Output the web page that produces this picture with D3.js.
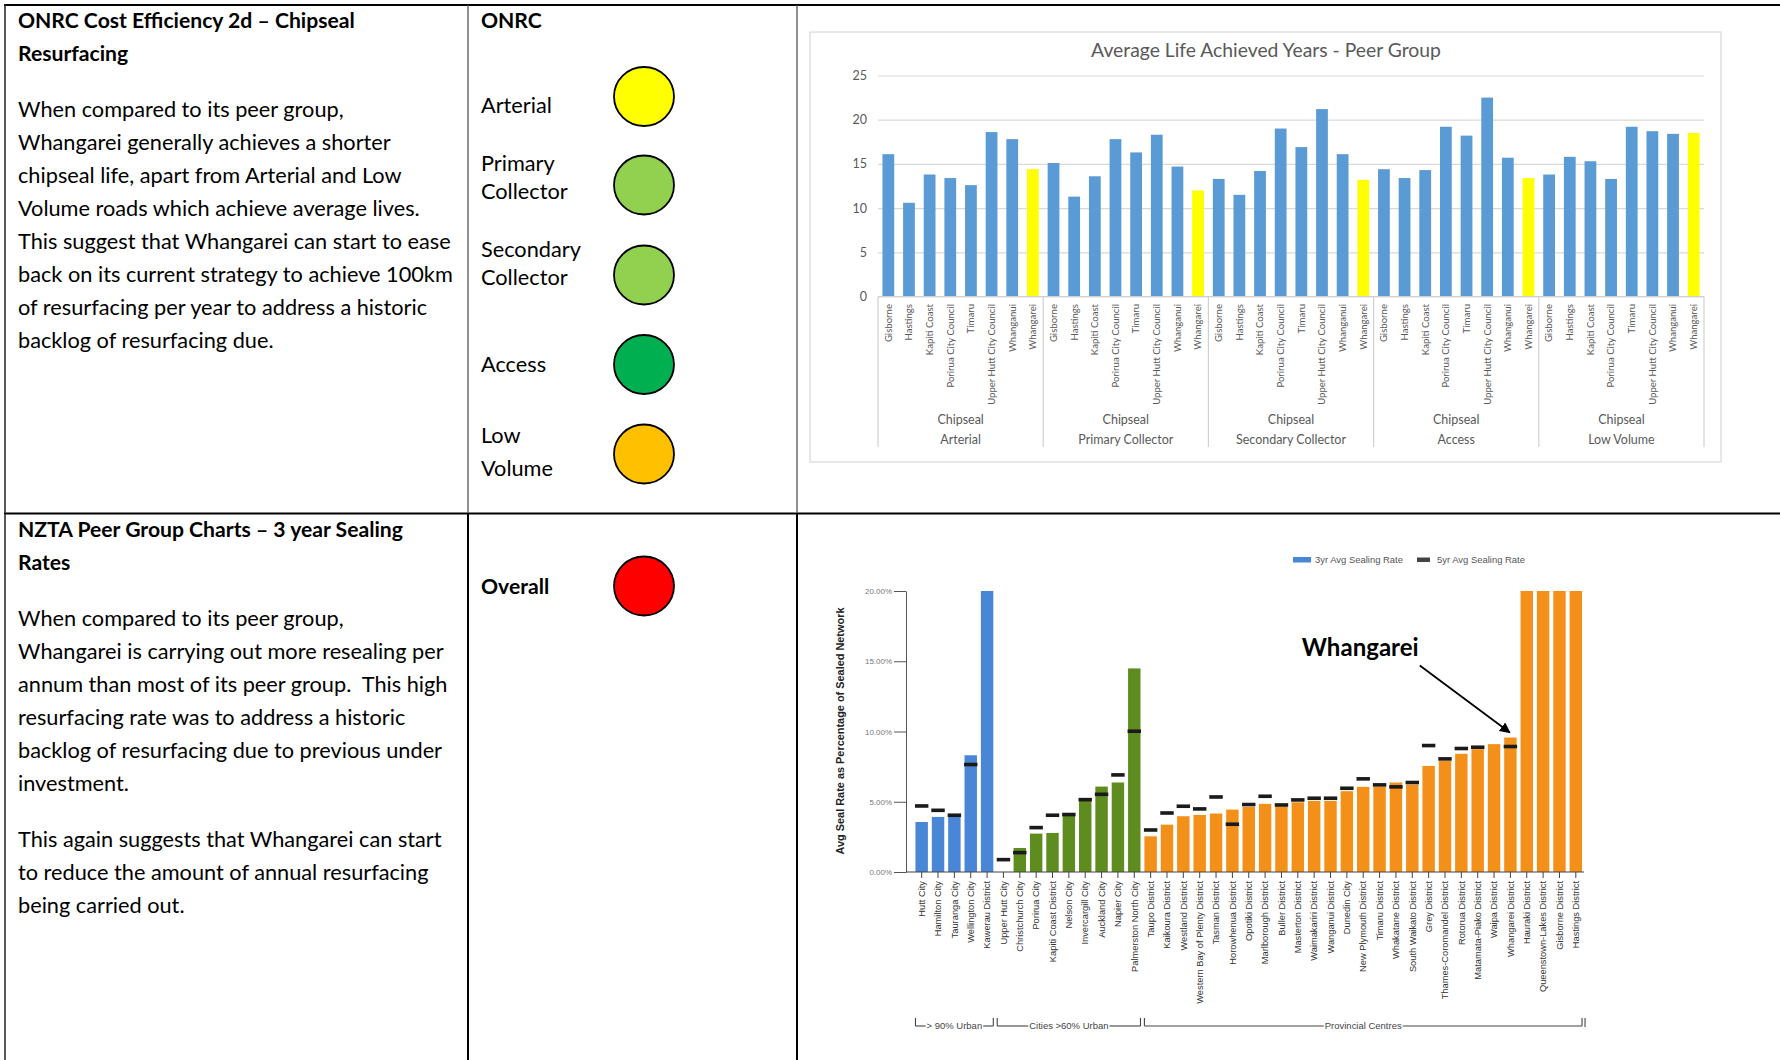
<!DOCTYPE html>
<html>
<head>
<meta charset="utf-8">
<script src="https://cdn.jsdelivr.net/npm/d3@7"></script>
<style>
  html, body { margin: 0; padding: 0; background: #fff; }
  svg { display: block; }
  text { white-space: pre; }
</style>
</head>
<body>
<svg id="page" width="1780" height="1060"></svg>
<script>
// ---------- Average life achieved (years) – chipseal, by ONRC class ----------
const lifeClasses   = ["Arterial", "Primary Collector", "Secondary Collector", "Access", "Low Volume"];
const lifeCouncils  = ["Gisborne", "Hastings", "Kapiti Coast", "Porirua City Council", "Timaru",
                       "Upper Hutt City Council", "Whanganui", "Whangarei"];
const lifeArterial  = [16.1, 10.6, 13.8, 13.4, 12.6, 18.6, 17.8, 14.4];
const lifePrimary   = [15.1, 11.3, 13.6, 17.8, 16.3, 18.3, 14.7, 12.0];
const lifeSecondary = [13.3, 11.5, 14.2, 19.0, 16.9, 21.2, 16.1, 13.2];
const lifeAccess    = [14.4, 13.4, 14.3, 19.2, 18.2, 22.5, 15.7, 13.4];
const lifeLowVolume = [13.8, 15.8, 15.3, 13.3, 19.2, 18.7, 18.4, 18.5];
const lifeTicks     = [0, 5, 10, 15, 20, 25];
const focusCouncil  = "Whangarei";

// ---------- Sealing rate as % of sealed network ----------
const sealCouncils = [
  "Hutt City", "Hamilton City", "Tauranga City", "Wellington City", "Kawerau District",
  "Upper Hutt City", "Christchurch City", "Porirua City", "Kapiti Coast District", "Nelson City",
  "Invercargill City", "Auckland City", "Napier City", "Palmerston North City",
  "Taupo District", "Kaikoura District", "Westland District", "Western Bay of Plenty District",
  "Tasman District", "Horowhenua District", "Opotiki District", "Marlborough District",
  "Buller District", "Masterton District", "Waimakariri District", "Wanganui District",
  "Dunedin City", "New Plymouth District", "Timaru District", "Whakatane District",
  "South Waikato District", "Grey District", "Thames-Coromandel District", "Rotorua District",
  "Matamata-Piako District", "Waipa District", "Whangarei District", "Hauraki District",
  "Queenstown-Lakes District", "Gisborne District", "Hastings District"
];
const sealRate3yr = [
  3.56, 3.92, 4.11, 8.31, 20.0,
  0.0, 1.71, 2.73, 2.78, 4.04, 5.06, 6.08, 6.37, 14.49,
  2.54, 3.37, 3.97, 4.06, 4.16, 4.44, 4.63, 4.85, 4.66, 4.96, 5.06, 5.06,
  5.75, 6.06, 6.06, 6.37, 6.22, 7.55, 7.91, 8.41, 8.74, 9.10, 9.57,
  20.0, 20.0, 20.0, 20.0
];
const sealRate5yr = [
  4.70, 4.39, 4.04, 7.65, null,
  0.88, 1.38, 3.16, 4.04, 4.09, 5.15, 5.53, 6.91, 10.02,
  2.99, 4.20, 4.68, 4.49, 5.34, 3.40, 4.80, 5.39, 4.77, 5.13, 5.25, 5.25,
  5.96, 6.63, 6.20, 6.06, 6.37, 9.00, 8.05, 8.79, 8.88, null, 8.93,
  null, null, null, null
];
const sealGroupLabels = ["> 90% Urban", "Cities >60% Urban", "Provincial Centres"];
const sealGroupSizes  = [5, 9, 27];
const sealTicks       = [0, 5, 10, 15, 20];
const sealLegend      = ["3yr Avg Sealing Rate", "5yr Avg Sealing Rate"];
const highlightCouncil = "Whangarei District";

// ---------- Report text and ONRC ratings ----------
const topHeading = ["ONRC Cost Efficiency 2d – Chipseal", "Resurfacing"];
const topBody = [
  "When compared to its peer group,",
  "Whangarei generally achieves a shorter",
  "chipseal life, apart from Arterial and Low",
  "Volume roads which achieve average lives.",
  "This suggest that Whangarei can start to ease",
  "back on its current strategy to achieve 100km",
  "of resurfacing per year to address a historic",
  "backlog of resurfacing due."
];
const bottomHeading = ["NZTA Peer Group Charts – 3 year Sealing", "Rates"];
const bottomBodyPara1 = [
  "When compared to its peer group,",
  "Whangarei is carrying out more resealing per",
  "annum than most of its peer group.  This high",
  "resurfacing rate was to address a historic",
  "backlog of resurfacing due to previous under",
  "investment."
];
const bottomBodyPara2 = [
  "This again suggests that Whangarei can start",
  "to reduce the amount of annual resurfacing",
  "being carried out."
];
const ratingLabels = [["Arterial"], ["Primary", "Collector"], ["Secondary", "Collector"], ["Access"], ["Low", "Volume"]];
const ratingLevels = ["yellow", "lightgreen", "lightgreen", "green", "amber"];
const overallLabel = "Overall";
const overallLevel = "red";

// ---------- drawing ----------
const svg = d3.select("#page");
const SANS = "Lato, 'Open Sans', sans-serif";
const ARIAL = "'Liberation Sans', Arial, sans-serif";

// font size that makes a string a given width
function fitSize(str, family, weight, target) {
  const t = svg.append("text").attr("font-family", family).attr("font-weight", weight)
    .attr("font-size", 100).text(str);
  const w = t.node().getComputedTextLength();
  t.remove();
  return 100 * target / w;
}

const ratingFill = { yellow: "#FFFF00", lightgreen: "#92D050", green: "#00B050", amber: "#FFC000", red: "#FF0000" };

// table rules
const table = svg.append("g");
table.append("line").attr("x1", 4).attr("x2", 1780).attr("y1", 5).attr("y2", 5).attr("stroke", "#000").attr("stroke-width", 2);
table.append("line").attr("x1", 4).attr("x2", 1780).attr("y1", 513.5).attr("y2", 513.5).attr("stroke", "#000").attr("stroke-width", 2);
table.append("line").attr("x1", 5).attr("x2", 5).attr("y1", 4).attr("y2", 1060).attr("stroke", "#222").attr("stroke-width", 1.5);
[468, 797].forEach(x => {
  table.append("line").attr("x1", x).attr("x2", x).attr("y1", 5).attr("y2", 513).attr("stroke", "#555").attr("stroke-width", 1.3);
  table.append("line").attr("x1", x).attr("x2", x).attr("y1", 513).attr("y2", 1060).attr("stroke", "#000").attr("stroke-width", 2);
});

// left column text
const headSize = fitSize(topHeading[0], SANS, 700, 337);
const bodySize = fitSize(topBody[5], SANS, 400, 435);
function lines(arr, x, y0, dy, size, weight) {
  svg.append("g").selectAll("text").data(arr).join("text")
    .attr("x", x).attr("y", (d, i) => y0 + i * dy)
    .attr("font-family", SANS).attr("font-weight", weight).attr("font-size", size)
    .attr("fill", "#000").text(d => d);
}
lines(topHeading, 18, 28, 33, headSize, 700);
lines(topBody, 18, 117, 33, bodySize, 400);
lines(bottomHeading, 18, 537, 33, headSize, 700);
lines(bottomBodyPara1, 18, 626, 33, bodySize, 400);
lines(bottomBodyPara2, 18, 847, 33, bodySize, 400);

// ONRC rating column
lines(["ONRC"], 481, 28, 0, headSize, 700);
const ratingCentres = [96.5, 185, 275, 364.5, 454];
const ratingBaselines = [[113], [171, 199], [257, 285], [372], [443, 476]];
ratingLabels.forEach((lab, i) => {
  lab.forEach((s, j) => lines([s], 481, ratingBaselines[i][j], 0, bodySize, 400));
});
svg.append("g").selectAll("ellipse").data(ratingLevels).join("ellipse")
  .attr("cx", 644).attr("cy", (d, i) => ratingCentres[i]).attr("rx", 30).attr("ry", 29.5)
  .attr("fill", d => ratingFill[d]).attr("stroke", "#000").attr("stroke-width", 1.8);
lines([overallLabel], 481, 594, 0, headSize, 700);
svg.append("ellipse").attr("cx", 644).attr("cy", 586).attr("rx", 30).attr("ry", 29.5)
  .attr("fill", ratingFill[overallLevel]).attr("stroke", "#000").attr("stroke-width", 1.8);

// ---------- chart 1: average life achieved ----------
const lifeSeries = [lifeArterial, lifePrimary, lifeSecondary, lifeAccess, lifeLowVolume];
const lifeRows = lifeClasses.flatMap((cls, gi) =>
  lifeCouncils.map((c, ci) => ({ cls, council: c, value: lifeSeries[gi][ci], key: gi * lifeCouncils.length + ci })));

const c1 = svg.append("g");
c1.append("rect").attr("x", 810).attr("y", 32).attr("width", 911).attr("height", 430)
  .attr("fill", "#fff").attr("stroke", "#d9d9d9").attr("stroke-width", 1.2);

const xLife = d3.scaleBand().domain(lifeRows.map(d => d.key)).range([878, 1704])
  .paddingInner(0.43).paddingOuter(0.215);
const yLife = d3.scaleLinear().domain([0, 25]).range([296.5, 75.5]);

const yAxisLife = c1.append("g").attr("transform", "translate(878,0)")
  .call(d3.axisLeft(yLife).tickValues(lifeTicks).tickSize(-826).tickPadding(11).tickFormat(d3.format("d")));
yAxisLife.select(".domain").remove();
yAxisLife.selectAll(".tick line").attr("stroke", "#d9d9d9").attr("stroke-width", 1.2);
yAxisLife.selectAll(".tick text").attr("fill", "#595959").attr("font-family", SANS).attr("font-size", 12.5);

c1.append("text").attr("x", 1266).attr("y", 57).attr("text-anchor", "middle")
  .attr("font-family", SANS).attr("font-size", fitSize("Average Life Achieved Years - Peer Group", SANS, 400, 350))
  .attr("fill", "#595959").text("Average Life Achieved Years - Peer Group");

c1.append("g").selectAll("rect").data(lifeRows).join("rect")
  .attr("x", d => xLife(d.key)).attr("width", xLife.bandwidth())
  .attr("y", d => yLife(d.value)).attr("height", d => yLife(0) - yLife(d.value))
  .attr("fill", d => d.council === focusCouncil ? "#FFFF00" : "#5B9BD5");

// category axis with multi-level labels
const step8 = xLife.step() * lifeCouncils.length;
c1.selectAll(".sep").data(d3.range(lifeClasses.length + 1)).join("line")
  .attr("x1", i => 878 + i * step8).attr("x2", i => 878 + i * step8)
  .attr("y1", 296.5).attr("y2", 447).attr("stroke", "#d0d0d0").attr("stroke-width", 1.2);
c1.append("line").attr("x1", 878).attr("x2", 1704).attr("y1", 296.5).attr("y2", 296.5)
  .attr("stroke", "#d0d0d0").attr("stroke-width", 1.2);

const catSize = fitSize("Upper Hutt City Council", SANS, 400, 101);
c1.append("g").selectAll("text").data(lifeRows).join("text")
  .attr("transform", d => `translate(${xLife(d.key) + xLife.bandwidth() / 2},304) rotate(-90)`)
  .attr("text-anchor", "end").attr("dy", "0.35em")
  .attr("font-family", SANS).attr("font-size", catSize).attr("fill", "#595959").text(d => d.council);
const grpSize = fitSize("Primary Collector", SANS, 400, 95);
lifeClasses.forEach((cls, i) => {
  const cx = 878 + (i + 0.5) * step8;
  c1.append("text").attr("x", cx).attr("y", 424).attr("text-anchor", "middle")
    .attr("font-family", SANS).attr("font-size", grpSize).attr("fill", "#595959").text("Chipseal");
  c1.append("text").attr("x", cx).attr("y", 444).attr("text-anchor", "middle")
    .attr("font-family", SANS).attr("font-size", grpSize).attr("fill", "#595959").text(cls);
});

// ---------- chart 2: sealing rates ----------
const groupColours = ["#4a86d6", "#5e8c1f", "#f39019"];
const groupOf = sealGroupSizes.flatMap((n, g) => d3.range(n).map(() => g));
const sealRows = sealCouncils.map((c, i) => ({ council: c, r3: sealRate3yr[i], r5: sealRate5yr[i], group: groupOf[i] }));

const c2 = svg.append("g");
const xSeal = d3.scaleBand().domain(sealCouncils).range([913.5, 1584]).paddingInner(0.24).paddingOuter(0.12);
const ySeal = d3.scaleLinear().domain([0, 20]).range([872, 591]);

const yAxisSeal = c2.append("g").attr("transform", "translate(906,0)")
  .call(d3.axisLeft(ySeal).tickValues(sealTicks).tickSize(12).tickSizeOuter(0).tickPadding(2)
    .tickFormat(d => d.toFixed(2) + "%"));
yAxisSeal.select(".domain").attr("stroke", "#555");
yAxisSeal.selectAll(".tick line").attr("stroke", "#555");
yAxisSeal.selectAll(".tick text").attr("fill", "#777").attr("font-family", ARIAL)
  .attr("font-size", fitSize("20.00%", ARIAL, 400, 27));

c2.append("g").selectAll("rect").data(sealRows).join("rect")
  .attr("x", d => xSeal(d.council)).attr("width", xSeal.bandwidth())
  .attr("y", d => ySeal(d.r3)).attr("height", d => ySeal(0) - ySeal(d.r3))
  .attr("fill", d => groupColours[d.group]);

c2.append("g").selectAll("rect").data(sealRows.filter(d => d.r5 != null)).join("rect")
  .attr("x", d => xSeal(d.council) - 0.5).attr("width", xSeal.bandwidth() + 1)
  .attr("y", d => ySeal(d.r5) - 1.8).attr("height", 3.6).attr("fill", "#1a1a1a");

const xAxisSeal = c2.append("g").attr("transform", "translate(0,872)")
  .call(d3.axisBottom(xSeal).tickSize(6).tickSizeOuter(0).tickFormat(""));
xAxisSeal.select(".domain").remove();
xAxisSeal.selectAll(".tick line").attr("stroke", "#444");
c2.append("line").attr("x1", 906).attr("x2", 1584).attr("y1", 872).attr("y2", 872).attr("stroke", "#444").attr("stroke-width", 1.2);

const sealLabelSize = fitSize("Western Bay of Plenty District", ARIAL, 400, 123);
c2.append("g").selectAll("text").data(sealRows).join("text")
  .attr("transform", d => `translate(${xSeal(d.council) + xSeal.bandwidth() / 2},881) rotate(-90)`)
  .attr("text-anchor", "end").attr("dy", "0.35em")
  .attr("font-family", ARIAL).attr("font-size", sealLabelSize).attr("fill", "#333").text(d => d.council);

// y title
const yTitle = "Avg Seal Rate as Percentage of Sealed Network";
c2.append("text").attr("transform", "translate(840,731) rotate(-90)").attr("text-anchor", "middle")
  .attr("dy", "0.35em").attr("font-family", ARIAL).attr("font-weight", 700)
  .attr("font-size", fitSize(yTitle, ARIAL, 700, 247)).attr("fill", "#222").text(yTitle);

// legend
const legSize = fitSize(sealLegend[0], ARIAL, 400, 88);
c2.append("rect").attr("x", 1293).attr("y", 557).attr("width", 18).attr("height", 5.5).attr("fill", groupColours[0]);
c2.append("text").attr("x", 1315).attr("y", 563).attr("font-family", ARIAL).attr("font-size", legSize).attr("fill", "#555").text(sealLegend[0]);
c2.append("rect").attr("x", 1417).attr("y", 557.5).attr("width", 13).attr("height", 4.5).attr("fill", "#444");
c2.append("text").attr("x", 1437).attr("y", 563).attr("font-family", ARIAL).attr("font-size", legSize).attr("fill", "#555").text(sealLegend[1]);

// peer-group brackets
const brY = 1026, brTop = 1018;
const brSize = fitSize("Provincial Centres", ARIAL, 400, 77);
let start = 0;
sealGroupSizes.forEach((n, g) => {
  const first = sealCouncils[start], last = sealCouncils[start + n - 1];
  const x0 = xSeal(first), x1 = xSeal(last) + xSeal.bandwidth();
  start += n;
  const bg = c2.append("g").attr("stroke", "#444").attr("stroke-width", 1.1);
  const txt = c2.append("text").attr("x", (x0 + x1) / 2).attr("y", brY + 3.2).attr("text-anchor", "middle")
    .attr("font-family", ARIAL).attr("font-size", brSize).attr("fill", "#444").text(sealGroupLabels[g]);
  const tw = txt.node().getComputedTextLength();
  const tl = (x0 + x1) / 2 - tw / 2 - 1, tr = (x0 + x1) / 2 + tw / 2 + 1;
  bg.append("line").attr("x1", x0).attr("x2", x0).attr("y1", brTop).attr("y2", brY);
  bg.append("line").attr("x1", x1).attr("x2", x1).attr("y1", brTop).attr("y2", brY);
  bg.append("line").attr("x1", x0).attr("x2", tl).attr("y1", brY).attr("y2", brY);
  bg.append("line").attr("x1", tr).attr("x2", x1).attr("y1", brY).attr("y2", brY);
  if (g === sealGroupSizes.length - 1) {
    bg.append("line").attr("x1", x1 + 3).attr("x2", x1 + 3).attr("y1", brTop).attr("y2", brY + 1);
  }
});

// Whangarei call-out
const hl = sealRows.find(d => d.council === highlightCouncil);
const tipX = xSeal(hl.council) + xSeal.bandwidth() * 0.45, tipY = ySeal(hl.r3) - 5;
svg.append("defs").append("marker").attr("id", "head").attr("viewBox", "0 0 10 10")
  .attr("refX", 9).attr("refY", 5).attr("markerWidth", 6).attr("markerHeight", 6)
  .attr("orient", "auto").attr("markerUnits", "strokeWidth")
  .append("path").attr("d", "M0,0 L10,5 L0,10 z").attr("fill", "#000");
c2.append("line").attr("x1", tipX - 90).attr("y1", tipY - 67).attr("x2", tipX).attr("y2", tipY)
  .attr("stroke", "#000").attr("stroke-width", 1.8).attr("marker-end", "url(#head)");
c2.append("text").attr("x", tipX - 208).attr("y", tipY - 77)
  .attr("font-family", SANS).attr("font-weight", 700)
  .attr("font-size", fitSize("Whangarei", SANS, 700, 117)).attr("fill", "#000").text("Whangarei");
</script>
</body>
</html>
